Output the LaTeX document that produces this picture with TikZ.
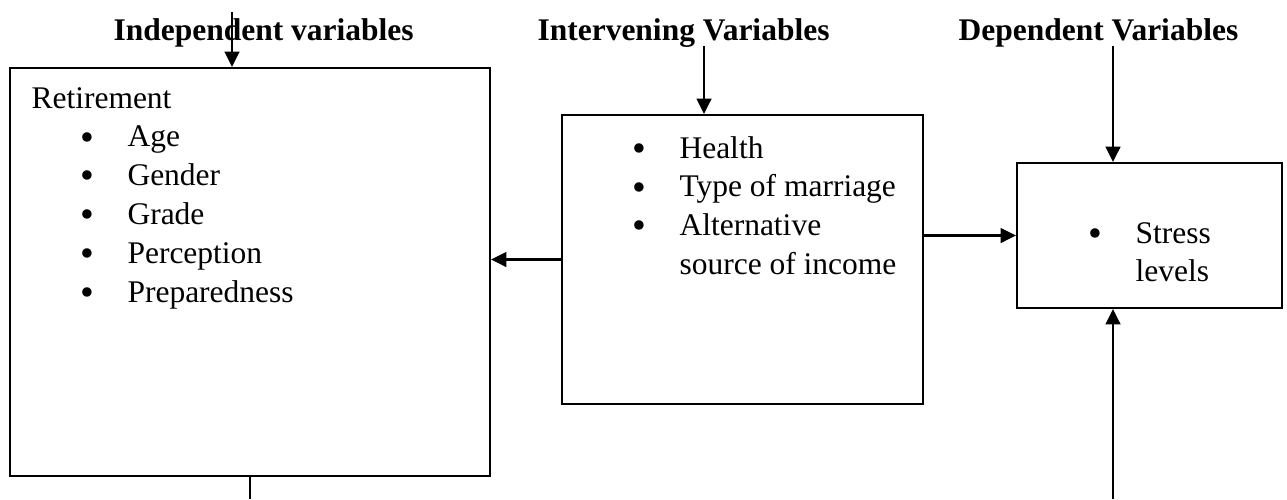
\documentclass[tikz,border=0pt]{standalone}
\usepackage{fontspec}
\setmainfont{Liberation Serif}
\usepackage{tikz}
\usetikzlibrary{arrows.meta,fit}

\newdimen\pxu \pxu=0.381pt
\newcommand{\bulletmark}{\raisebox{-1.2pt}{\fontsize{15}{14.8}\selectfont\textbullet}}

\begin{document}
\begin{tikzpicture}[
    x=0.381pt, y=-0.381pt,
    font=\fontsize{12}{14.8}\selectfont,
    box/.style={draw, line width=0.8pt, inner sep=0pt},
    title/.style={anchor=base west, inner sep=0pt, font=\fontsize{12}{14.8}\selectfont\bfseries},
    items/.style={anchor=base west, inner sep=0pt, align=left},
    arrow/.style={-{Triangle[length=5.8pt,width=5.6pt]}, line width=0.8pt}
  ]
    \useasboundingbox (0,0) rectangle (1287,499);

    % headings
    \node[title] (tindep) at (113,40) {Independent variables};
    \node[title] (tinterv) at (537,40) {Intervening Variables};
    \node[title] (tdep) at (958,40) {Dependent Variables};

    % boxes
    \node[box, fit={(10,68) (490,476)}] (indep) {};
    \node[box, fit={(562,115) (923,404)}] (interv) {};
    \node[box, fit={(1017,163) (1282,308)}] (dep) {};

    % box texts
    \node[items] (indeplist) at (31,108) {\begin{tabular}[t]{@{}p{49\pxu}@{}p{47\pxu}@{}l@{}}
      \multicolumn{3}{@{}l@{}}{Retirement}\\
      & \bulletmark & Age\\
      & \bulletmark & Gender\\
      & \bulletmark & Grade\\
      & \bulletmark & Perception\\
      & \bulletmark & Preparedness
    \end{tabular}};
    \node[items] (intervlist) at (632,158) {\begin{tabular}[t]{@{}p{47\pxu}@{}l@{}}
      \bulletmark & Health\\
      \bulletmark & Type of marriage\\
      \bulletmark & Alternative\\
      & source of income
    \end{tabular}};
    \node[items] (deplist) at (1088,243) {\begin{tabular}[t]{@{}p{47\pxu}@{}l@{}}
      \bulletmark & Stress\\
      & levels
    \end{tabular}};

    % free ends
    \coordinate (ia) at (232,12);
    \coordinate (va) at (704,46);
    \coordinate (da) at (1113,46);
    \coordinate (ub) at (1113,499);
    \coordinate (lb) at (250,499);

    \draw[arrow] (ia) -- (ia |- indep.north);
    \draw[arrow] (va) -- (va |- interv.north);
    \draw[arrow] (da) -- (da |- dep.north);
    \draw[arrow] (ub) -- (ub |- dep.south);
    \draw[line width=0.8pt] (lb |- indep.south) -- (lb);
    \draw[arrow] (interv.west) -- (interv.west -| indep.east);
    \draw[arrow] (dep.west -| interv.east) -- (dep.west);
  \end{tikzpicture}
\end{document}
